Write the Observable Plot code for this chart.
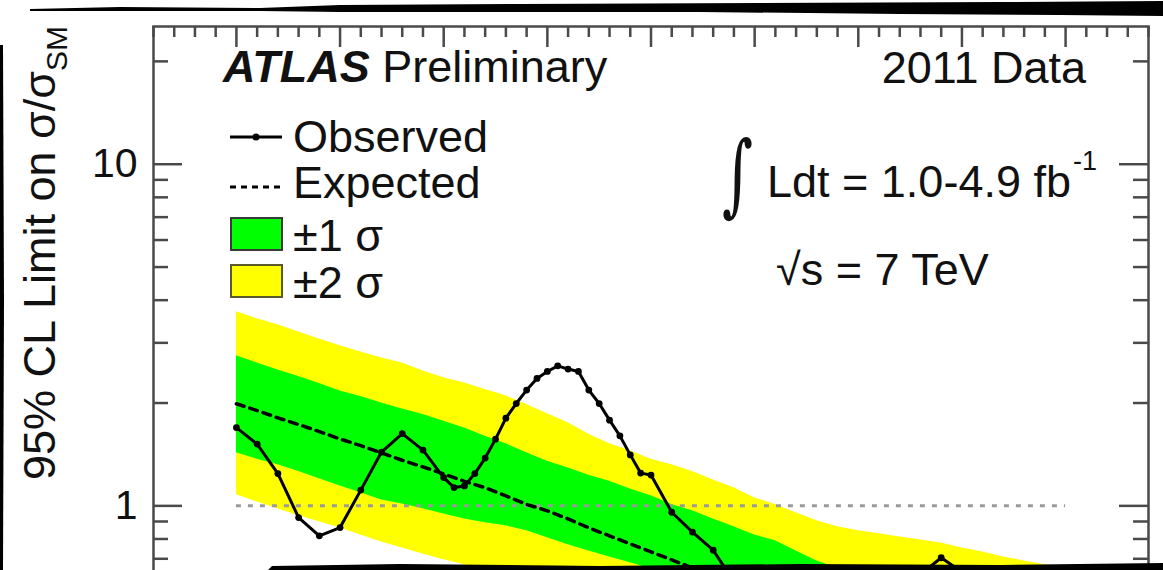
<!DOCTYPE html>
<html>
<head>
<meta charset="utf-8">
<script src="https://cdn.jsdelivr.net/npm/d3@7"></script>
<script src="https://cdn.jsdelivr.net/npm/@observablehq/plot@0.6"></script>
<style>
html, body { margin: 0; padding: 0; background: #fff; overflow: hidden; }
#wrap { position: relative; width: 1163px; height: 570px; overflow: hidden; background: #fff; }
#chart { position: absolute; left: 0; top: 0; }
.tear { position: absolute; left: 0; top: 0; width: 1163px; height: 570px; background: #000; pointer-events: none; }
#tearTop { clip-path: polygon(30px 9px, 120px 7px, 260px 8px, 340px 5px, 520px 4px, 760px 3px, 1000px 2px, 1163px 1px, 1163px 16px, 1060px 15px, 900px 14px, 700px 12px, 500px 12px, 340px 12px, 260px 11px, 120px 11px, 30px 11px); }
#tearBottom { clip-path: polygon(268px 570px, 272px 566px, 400px 564px, 600px 566px, 800px 564px, 1000px 565px, 1163px 563px, 1163px 570px); }
#tearLeft { clip-path: polygon(0px 45px, 3px 45px, 4px 300px, 3px 570px, 0px 570px); }
</style>
</head>
<body>
<div id="wrap">
  <div id="chart"></div>
  <div class="tear" id="tearTop"></div>
  <div class="tear" id="tearBottom"></div>
  <div class="tear" id="tearLeft"></div>
</div>
<script>
// ---------------- data ----------------
const bandMass = [110,111,112,113,114,115,116,117,118,119,120,121,122,123,124,125,126,127,128,129,130,
                  131,132,133,134,135,136,137,138,139,140,141,142,143,144,145,146,147,148,149,150];
const expectedLimit = [1.99,1.90,1.81,1.73,1.65,1.57,1.50,1.43,1.36,1.30,1.24,1.18,1.13,1.07,1.01,0.967,0.916,0.862,0.817,0.774,0.733,
                       0.695,0.658,0.632,0.607,0.583,0.564,0.545,0.527,0.510,0.496,0.483,0.470,0.458,0.445,0.434,0.422,0.411,0.400,0.389,0.379];
const plus1Sigma = [2.75,2.62,2.50,2.39,2.28,2.17,2.09,2.00,1.92,1.85,1.77,1.69,1.60,1.52,1.43,1.35,1.29,1.23,1.18,1.12,1.07,
                    1.01,0.967,0.916,0.868,0.822,0.790,0.738,0.690,0.658,0.636,0.620,0.603,0.591,0.579,0.564,0.549,0.534,0.520,0.506,0.493];
const minus1Sigma = [1.43,1.37,1.32,1.26,1.20,1.144,1.092,1.041,1.013,0.980,0.947,0.916,0.892,0.874,0.845,0.806,0.769,0.738,0.709,0.681,0.654,
                     0.628,0.603,0.579,0.556,0.534,0.516,0.500,0.483,0.467,0.454,0.442,0.431,0.419,0.408,0.397,0.387,0.376,0.366,0.356,0.347];
const plus2Sigma = [3.70,3.53,3.39,3.23,3.08,2.94,2.82,2.71,2.62,2.48,2.37,2.29,2.19,2.10,1.98,1.86,1.75,1.62,1.52,1.45,1.37,
                    1.32,1.26,1.19,1.13,1.055,1.01,0.954,0.904,0.868,0.845,0.828,0.811,0.795,0.779,0.753,0.733,0.709,0.690,0.672,0.658];
const minus2Sigma = [1.077,1.027,0.980,0.935,0.898,0.862,0.822,0.784,0.753,0.723,0.695,0.672,0.650,0.628,0.603,0.579,0.556,0.534,0.513,0.493,0.473,
                     0.454,0.436,0.419,0.405,0.392,0.379,0.366,0.356,0.347,0.338,0.331,0.324,0.318,0.311,0.305,0.299,0.293,0.288,0.281,0.276];

const obsMass = [110,111,112,113,114,115,116,117,118,119,120,
                 120.5,121,121.5,122,122.5,123,123.5,124,124.5,125,125.5,126,126.5,127,127.5,128,128.5,129,129.5,130,
                 131,132,133,134,135,136,137,138,139,140,141,142,143,144,145,146,147,148,149,150];
const obsLimit = [1.695,1.516,1.243,0.924,0.817,0.864,1.112,1.437,1.628,1.456,1.210,
                  1.131,1.144,1.243,1.380,1.568,1.806,1.993,2.182,2.360,2.474,2.570,2.514,2.474,2.182,1.993,1.782,1.603,1.410,1.247,1.231,
                  0.958,0.838,0.742,0.60,0.55,0.52,0.50,0.52,0.55,0.58,0.62,0.64,0.63,0.705,0.64,0.62,0.58,0.52,0.48,0.45];

const yMajorTicks = [1, 10];
const yMinorTicks = [0.3,0.4,0.5,0.6,0.7,0.8,0.9,2,3,4,5,6,7,8,9,20];
const xMajorTicks = [110,115,120,125,130,135,140,145,150];
const xMinorTicks = [106,107,108,109,111,112,113,114,116,117,118,119,121,122,123,124,126,127,128,129,
                     131,132,133,134,136,137,138,139,141,142,143,144,146,147,148,149,151,152,153,154];
const referenceLevel = [1];

// ---------------- layout ----------------
const FONT = "'Liberation Sans', Arial, Helvetica, sans-serif";
const FS = 45;
const W = 1163, H = 724;
const mL = 153, mR = 15, mT = 26, mB = 40;
const frameW = W - mL - mR;
const frameH = H - mT - mB;
const axisColor = "#4a4a4a";

const bands = bandMass.map((m, i) => ({
  mass: m, exp: expectedLimit[i], p1: plus1Sigma[i], m1: minus1Sigma[i], p2: plus2Sigma[i], m2: minus2Sigma[i]
}));
const obs = obsMass.map((m, i) => ({mass: m, lim: obsLimit[i]}));

const chart = Plot.plot({
  width: W, height: H,
  marginLeft: mL, marginRight: mR, marginTop: mT, marginBottom: mB,
  style: {fontFamily: FONT, background: "transparent", color: "#000"},
  x: {domain: [106, 154], axis: null},
  y: {type: "log", domain: [0.3, 25.3], axis: null},
  marks: [
    Plot.areaY(bands, {x: "mass", y1: "m2", y2: "p2", fill: "#ffff00", clip: true}),
    Plot.areaY(bands, {x: "mass", y1: "m1", y2: "p1", fill: "#00ff00", clip: true}),
    Plot.ruleY(referenceLevel, {x1: d3.min(bandMass), x2: d3.max(bandMass), stroke: "#9a9a9a", strokeWidth: 3, strokeDasharray: "5,7"}),
    Plot.line(bands, {x: "mass", y: "exp", stroke: "#000", strokeWidth: 3.5, strokeDasharray: "8,6", clip: true}),
    Plot.line(obs, {x: "mass", y: "lim", stroke: "#000", strokeWidth: 3, clip: true}),
    Plot.dot(obs, {x: "mass", y: "lim", r: 3.4, fill: "#000", stroke: "none", clip: true}),
    Plot.frame({stroke: axisColor, strokeWidth: 2.5}),
    Plot.tickY(yMajorTicks, {stroke: axisColor, strokeWidth: 2.5, insetRight: frameW - 29}),
    Plot.tickY(yMinorTicks, {stroke: axisColor, strokeWidth: 2.5, insetRight: frameW - 15}),
    Plot.tickY(yMajorTicks, {stroke: axisColor, strokeWidth: 2.5, insetLeft: frameW - 29}),
    Plot.tickY(yMinorTicks, {stroke: axisColor, strokeWidth: 2.5, insetLeft: frameW - 15}),
    Plot.tickX(xMajorTicks, {stroke: axisColor, strokeWidth: 2.5, insetBottom: frameH - 21}),
    Plot.tickX(xMinorTicks, {stroke: axisColor, strokeWidth: 2.5, insetBottom: frameH - 11}),
    Plot.text(yMajorTicks, {y: d => d, frameAnchor: "left", dx: -16, textAnchor: "end", text: d => String(d), fontSize: 41, fill: "#111"})
  ]
});
document.getElementById("chart").appendChild(chart);

// ---------------- annotations & legend ----------------
const svg = d3.select(chart);
const g = svg.append("g").attr("font-family", FONT).attr("fill", "#111").attr("text-anchor", "start");

const atlas = g.append("text").attr("x", 223).attr("y", 82).attr("font-size", FS);
atlas.append("tspan").attr("font-weight", "bold").attr("font-style", "italic").text("ATLAS");
atlas.append("tspan").text(" Preliminary");

g.append("text").attr("x", 1086).attr("y", 83).attr("font-size", FS).attr("text-anchor", "end").text("2011 Data");

// integral sign, fitted into its box from the reference
const integ = g.append("text").attr("x", 0).attr("y", 0).attr("font-size", 100)
  .attr("font-family", "'DejaVu Serif', 'Liberation Serif', serif").text("∫");
{
  const bb = integ.node().getBBox();
  const tx0 = 722, ty0 = 122, tw = 31, th = 105;
  const sx = tw / bb.width, sy = th / bb.height;
  integ.attr("transform", `translate(${tx0 - bb.x * sx},${ty0 - bb.y * sy}) scale(${sx},${sy})`);
}
const lumi = g.append("text").attr("x", 767).attr("y", 197).attr("font-size", FS).text("Ldt = 1.0-4.9 fb");
const lumiEnd = 767 + lumi.node().getComputedTextLength();
g.append("text").attr("x", lumiEnd + 2).attr("y", 170).attr("font-size", 27).text("-1");
g.append("text").attr("x", 776).attr("y", 285).attr("font-size", FS).text("√s = 7 TeV");

// legend
const lx0 = 230, lx1 = 282, tx = 293;
g.append("line").attr("x1", lx0).attr("x2", lx1).attr("y1", 137).attr("y2", 137).attr("stroke", "#000").attr("stroke-width", 3);
g.append("circle").attr("cx", (lx0 + lx1) / 2).attr("cy", 137).attr("r", 3.5).attr("fill", "#000");
g.append("text").attr("x", tx).attr("y", 152).attr("font-size", FS).text("Observed");
g.append("line").attr("x1", lx0).attr("x2", lx1).attr("y1", 187).attr("y2", 187).attr("stroke", "#000").attr("stroke-width", 3).attr("stroke-dasharray", "6,5");
g.append("text").attr("x", tx).attr("y", 198).attr("font-size", FS).text("Expected");
g.append("rect").attr("x", 231).attr("y", 218).attr("width", 51).attr("height", 32).attr("fill", "#00ff00").attr("stroke", "#3a3a3a").attr("stroke-width", 2);
g.append("text").attr("x", tx).attr("y", 251).attr("font-size", FS).text("±1 σ");
g.append("rect").attr("x", 231).attr("y", 265).attr("width", 51).attr("height", 32).attr("fill", "#ffff00").attr("stroke", "#5a5a2a").attr("stroke-width", 2);
g.append("text").attr("x", tx).attr("y", 298).attr("font-size", FS).text("±2 σ");

// y-axis title
const yt = g.append("text").attr("transform", "translate(55,26) rotate(-90)").attr("text-anchor", "end").attr("font-size", FS);
yt.append("tspan").text("95% CL Limit on σ/σ");
yt.append("tspan").attr("font-size", 30).attr("dy", 12).text("SM");
</script>
</body>
</html>
